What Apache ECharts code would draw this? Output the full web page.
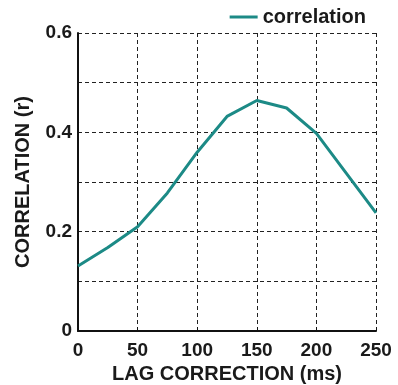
<!DOCTYPE html>
<html>
<head>
<meta charset="utf-8">
<script src="https://cdn.jsdelivr.net/npm/echarts@6/dist/echarts.min.js"></script>
<style>
  html, body { margin: 0; padding: 0; background: #fff; }
  #chart { width: 398px; height: 385px; }
</style>
</head>
<body>
<div id="chart"></div>
<script>
// lag correction (ms) and correlation values
var lags = [0, 25, 50, 75, 100, 125, 150, 175, 200, 225, 250];
var correlation = [0.131, 0.168, 0.21, 0.278, 0.36, 0.432, 0.464, 0.449, 0.398, 0.318, 0.238];

var chart = echarts.init(document.getElementById('chart'));
var font = 'Liberation Sans, Arial, sans-serif';
var gridLine = { type: [4, 3], color: '#222', width: 1 };

var option = {
  animation: false,
  backgroundColor: '#fff',
  textStyle: { fontFamily: font },
  legend: {
    data: ['correlation'],
    right: 27,
    top: 2,
    icon: 'rect',
    itemWidth: 28,
    itemHeight: 3,
    itemGap: 8,
    textStyle: { fontFamily: font, fontSize: 20, fontWeight: 'bold', color: '#1a1a1a' }
  },
  grid: { left: 78, right: 22, top: 33, bottom: 54, outerBoundsMode: 'none' },
  xAxis: {
    type: 'value',
    min: 0,
    max: 250,
    interval: 50,
    name: 'LAG CORRECTION (ms)',
    nameLocation: 'middle',
    nameGap: 33,
    nameTextStyle: { fontFamily: font, fontSize: 20, fontWeight: 'bold', color: '#1a1a1a' },
    axisLine: { lineStyle: { color: '#111', width: 2 } },
    axisTick: { inside: true, length: 4, lineStyle: { color: '#111' } },
    axisLabel: { fontFamily: font, fontSize: 19, fontWeight: 'bold', color: '#1a1a1a', margin: 10 },
    splitLine: { show: true, lineStyle: gridLine }
  },
  yAxis: {
    type: 'value',
    min: 0,
    max: 0.6,
    interval: 0.1,
    name: 'CORRELATION (r)',
    nameLocation: 'middle',
    nameGap: 45,
    nameTextStyle: { fontFamily: font, fontSize: 20, fontWeight: 'bold', color: '#1a1a1a' },
    axisLine: { show: true, lineStyle: { color: '#111', width: 2 } },
    axisTick: { show: false },
    axisLabel: {
      fontFamily: font, fontSize: 19, fontWeight: 'bold', color: '#1a1a1a', margin: 6,
      formatter: function (v) {
        var k = Math.round(v * 10);
        if (k % 2) return '';
        return k === 0 ? '0' : v.toFixed(1);
      }
    },
    splitLine: { show: true, lineStyle: gridLine }
  },
  series: [{
    name: 'correlation',
    type: 'line',
    data: lags.map(function (x, i) { return [x, correlation[i]]; }),
    showSymbol: false,
    lineStyle: { color: '#1c8a86', width: 3 },
    itemStyle: { color: '#1c8a86' }
  }]
};

chart.setOption(option);
</script>
</body>
</html>
